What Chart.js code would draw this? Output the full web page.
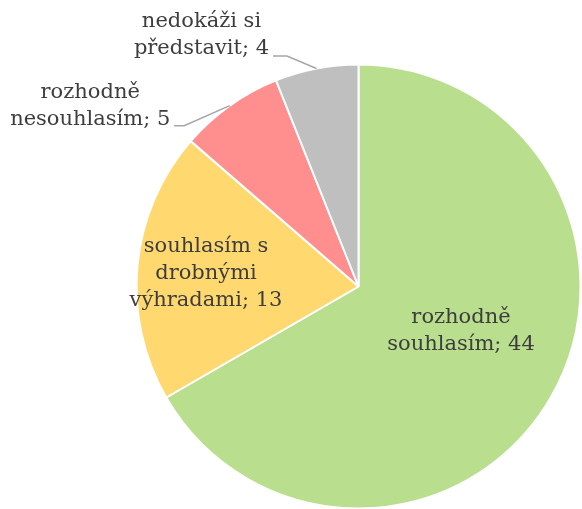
<!DOCTYPE html>
<html>
<head>
<meta charset="utf-8">
<script src="https://cdn.jsdelivr.net/npm/chart.js@4/dist/chart.umd.min.js"></script>
<style>
  html, body { margin: 0; padding: 0; background: #ffffff; }
  #wrap { width: 582px; height: 509px; position: relative; }
</style>
</head>
<body>
<div id="wrap"><canvas id="c" width="582" height="509"></canvas></div>
<script>
// ---- data ----
const categories = ['rozhodně souhlasím', 'souhlasím s drobnými výhradami', 'rozhodně nesouhlasím', 'nedokáži si představit'];
const values = [44, 13, 5, 4];
const colors = ['#b9df8e', '#ffd96f', '#ff8f8f', '#bfbfbf'];

// ---- label layout (pixel offsets, not data) ----
const placements = [
  { inside: true,  dx: 102.5, dy: 44.5 },
  { inside: true,  dx: -152.5, dy: -12.5 },
  { inside: false, dx: -139.5, dy: 0, elbow: [-45.5, 20], end: [-55.5, 20] },
  { inside: false, dx: -115, dy: -33, elbow: [-29.5, -12.5], end: [-43.5, -12.5] }
];

function wrapText(ctx, text, maxWidth) {
  const words = text.split(' ');
  const lines = [];
  let cur = '';
  for (const w of words) {
    const test = cur ? cur + ' ' + w : w;
    if (ctx.measureText(test).width > maxWidth && cur) {
      lines.push(cur);
      cur = w;
    } else {
      cur = test;
    }
  }
  if (cur) lines.push(cur);
  return lines;
}

const sliceLabels = {
  id: 'sliceLabels',
  afterDatasetsDraw(chart, args, opts) {
    const ctx = chart.ctx;
    const meta = chart.getDatasetMeta(0);
    ctx.save();
    ctx.font = opts.font;
    ctx.fillStyle = opts.color;
    ctx.textAlign = 'center';
    ctx.textBaseline = 'middle';
    meta.data.forEach((arc, i) => {
      const p = opts.placements[i];
      const props = arc.getProps(['x', 'y', 'startAngle', 'endAngle', 'outerRadius'], true);
      const mid = (props.startAngle + props.endAngle) / 2;
      const label = chart.data.labels[i] + '; ' + chart.data.datasets[0].data[i];
      const lines = wrapText(ctx, label, opts.maxWidth);
      let cx, cy;
      if (p.inside) {
        cx = props.x + p.dx;
        cy = props.y + p.dy;
      } else {
        const ex = props.x + Math.cos(mid) * props.outerRadius;
        const ey = props.y + Math.sin(mid) * props.outerRadius;
        cx = ex + p.dx;
        cy = ey + p.dy;
        ctx.save();
        ctx.strokeStyle = opts.leaderColor;
        ctx.lineWidth = 1.5;
        ctx.beginPath();
        ctx.moveTo(ex, ey);
        ctx.lineTo(ex + p.elbow[0], ey + p.elbow[1]);
        ctx.lineTo(ex + p.end[0], ey + p.end[1]);
        ctx.stroke();
        ctx.restore();
      }
      const lh = opts.lineHeight;
      const top = cy - (lines.length - 1) * lh / 2;
      lines.forEach((ln, k) => ctx.fillText(ln, cx, top + k * lh));
    });
    ctx.restore();
  }
};

new Chart(document.getElementById('c'), {
  type: 'pie',
  data: {
    labels: categories,
    datasets: [{
      data: values,
      backgroundColor: colors,
      borderColor: '#ffffff',
      borderWidth: 2
    }]
  },
  options: {
    responsive: false,
    animation: false,
    radius: 222,
    layout: { padding: { left: 135, right: 0, top: 64, bottom: 0 } },
    plugins: {
      legend: { display: false },
      tooltip: { enabled: false },
      sliceLabels: {
        font: '21px "DejaVu Serif"',
        color: '#3d3d3d',
        leaderColor: '#a6a6a6',
        lineHeight: 27,
        maxWidth: 175,
        placements: placements
      }
    }
  },
  plugins: [sliceLabels]
});
</script>
</body>
</html>
